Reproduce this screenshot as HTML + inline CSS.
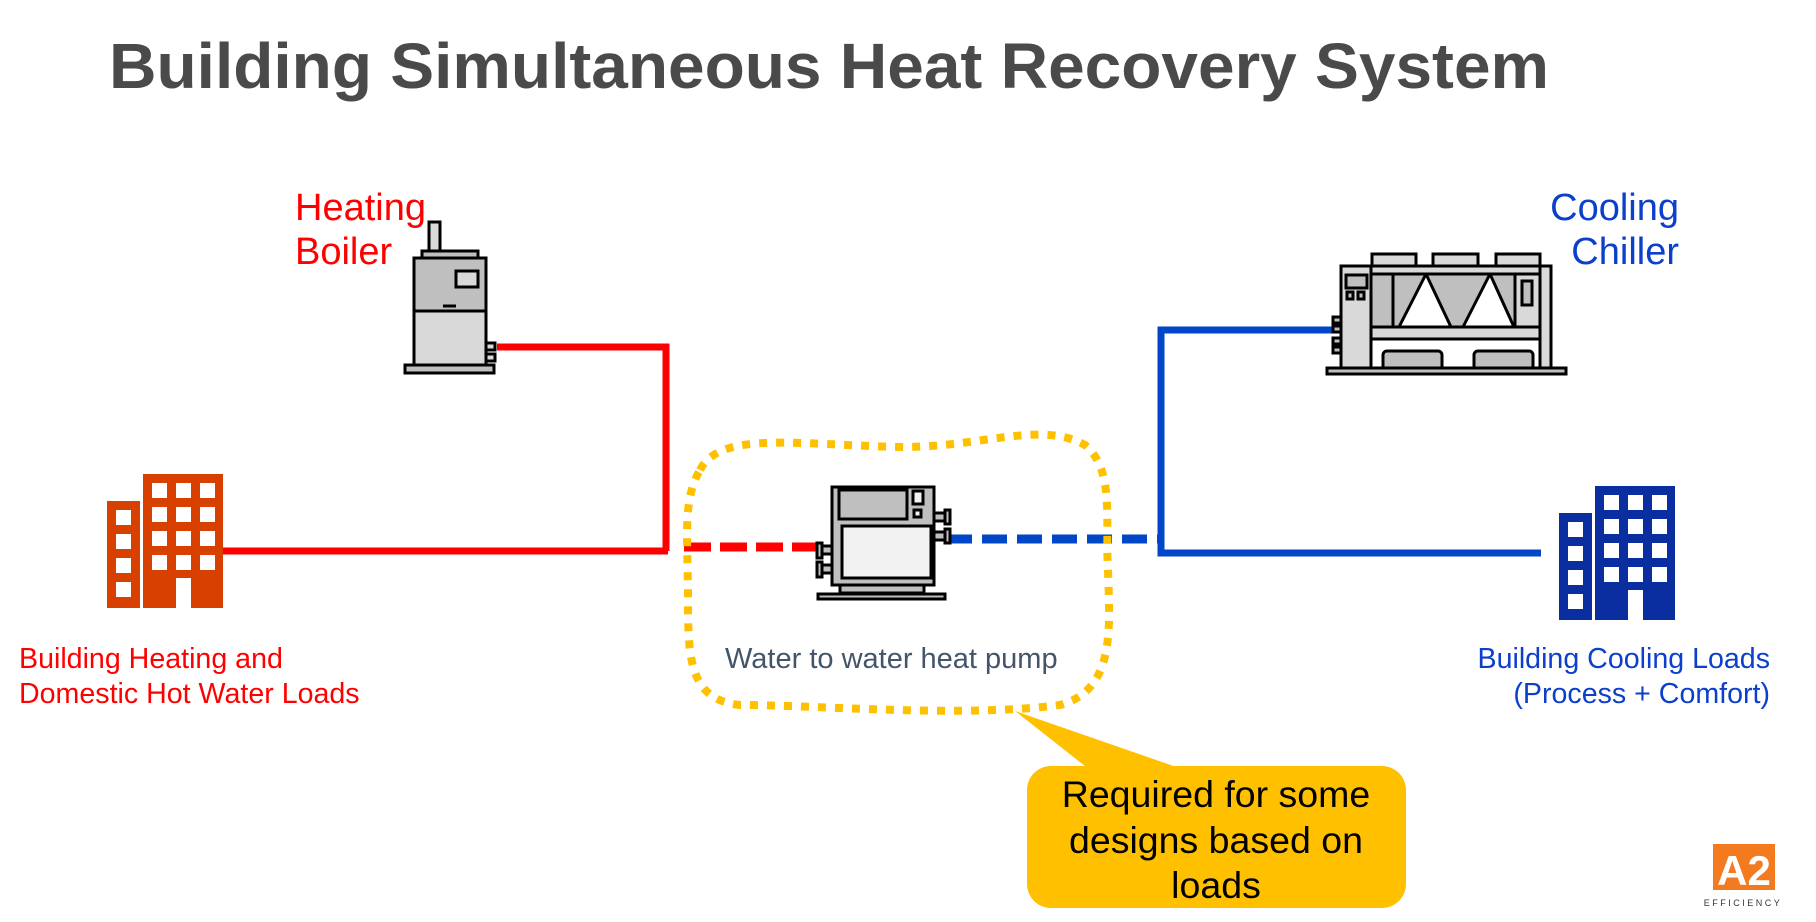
<!DOCTYPE html>
<html><head><meta charset="utf-8"><style>
html,body{margin:0;padding:0;background:#fff;}
svg{display:block;font-family:"Liberation Sans",sans-serif;}
</style></head><body>
<svg width="1816" height="922" viewBox="0 0 1816 922" xmlns="http://www.w3.org/2000/svg">
<text x="109" y="88" font-size="64" font-weight="bold" fill="#4a4a4a" textLength="1440" lengthAdjust="spacingAndGlyphs">Building Simultaneous Heat Recovery System</text>

<text x="295" y="220" font-size="38" fill="#ff0000">Heating</text>
<text x="295" y="264" font-size="38" fill="#ff0000">Boiler</text>
<text x="1679" y="220" font-size="38" fill="#0b3fcc" text-anchor="end">Cooling</text>
<text x="1679" y="264" font-size="38" fill="#0b3fcc" text-anchor="end">Chiller</text>

<!-- lines -->
<g fill="none" stroke-width="7">
<polyline points="497,347 666,347 666,551" stroke="#ff0000"/>
<line x1="223" y1="551" x2="668" y2="551" stroke="#ff0000"/>
<line x1="684" y1="547" x2="819" y2="547" stroke="#ff0000" stroke-width="9" stroke-dasharray="27,9"/>
<line x1="947" y1="539" x2="1161" y2="539" stroke="#0047c8" stroke-width="9" stroke-dasharray="25,10"/>
<polyline points="1333,330 1161,330 1161,553 1541,553" stroke="#0047c8"/>
</g>

<!-- boiler -->
<g stroke="#000" stroke-width="3">
<rect x="429" y="222" width="11" height="29" fill="#d9d9d9"/>
<rect x="422" y="251" width="56" height="7" fill="#bfbfbf"/>
<rect x="414" y="258" width="72" height="53" fill="#bfbfbf"/>
<rect x="414" y="311" width="72" height="54" fill="#d9d9d9"/>
<rect x="456" y="271" width="22" height="16" fill="#d9d9d9"/>
<line x1="443" y1="306" x2="456" y2="306"/>
<rect x="405" y="365" width="89" height="8" fill="#bfbfbf"/>
<rect x="486" y="343" width="9" height="7" fill="#d9d9d9"/>
<rect x="486" y="354" width="9" height="7" fill="#d9d9d9"/>
</g>

<!-- heat pump -->
<g stroke="#000" stroke-width="3">
<rect x="832" y="487" width="102" height="98" fill="#bfbfbf"/>
<rect x="839" y="490" width="68" height="29" fill="#bfbfbf"/>
<rect x="913" y="491" width="10" height="13" fill="#f2f2f2"/>
<rect x="914" y="510" width="7" height="7" fill="#f2f2f2"/>
<rect x="842" y="526" width="89" height="52" fill="#f2f2f2"/>
<rect x="840" y="585" width="84" height="8" fill="#bfbfbf"/>
<rect x="818" y="594" width="127" height="5" fill="#bfbfbf"/>
<rect x="821" y="546" width="11" height="8" fill="#bfbfbf"/><rect x="817" y="543" width="5" height="15" fill="#bfbfbf"/>
<rect x="821" y="565" width="11" height="8" fill="#bfbfbf"/><rect x="817" y="562" width="5" height="15" fill="#bfbfbf"/>
<rect x="934" y="513" width="12" height="8" fill="#bfbfbf"/><rect x="945" y="510" width="5" height="14" fill="#bfbfbf"/>
<rect x="934" y="532" width="12" height="8" fill="#bfbfbf"/><rect x="945" y="529" width="5" height="14" fill="#bfbfbf"/>
</g>

<!-- chiller -->
<g stroke="#000" stroke-width="3">
<rect x="1372" y="254" width="44" height="12" fill="#d9d9d9"/>
<rect x="1433" y="254" width="45" height="12" fill="#d9d9d9"/>
<rect x="1496" y="254" width="44" height="12" fill="#d9d9d9"/>
<rect x="1371" y="274" width="169" height="53" fill="#bfbfbf"/>
<polygon points="1399,327 1426,274 1451,327" fill="#fff"/>
<polygon points="1463,327 1490,274 1514,327" fill="#fff"/>
<line x1="1393" y1="274" x2="1393" y2="327"/>
<rect x="1515" y="274" width="25" height="53" fill="#d9d9d9"/>
<rect x="1522" y="281" width="10" height="24" fill="#bfbfbf"/>
<rect x="1371" y="266" width="180" height="8" fill="#d9d9d9"/>
<rect x="1371" y="327" width="169" height="12" fill="#d9d9d9"/>
<rect x="1371" y="339" width="169" height="29" fill="#fff"/>
<rect x="1383" y="351" width="59" height="19" rx="4" fill="#bfbfbf"/>
<rect x="1474" y="351" width="59" height="19" rx="4" fill="#bfbfbf"/>
<rect x="1540" y="266" width="11" height="102" fill="#d9d9d9"/>
<rect x="1341" y="266" width="30" height="102" fill="#d9d9d9"/>
<rect x="1346" y="275" width="21" height="13" fill="#bfbfbf"/>
<rect x="1347" y="292" width="6" height="7" fill="#bfbfbf"/><rect x="1358" y="292" width="6" height="7" fill="#bfbfbf"/>
<rect x="1327" y="368" width="239" height="6" fill="#bfbfbf"/>
<rect x="1333" y="317" width="8" height="6" fill="#bfbfbf"/><rect x="1333" y="326" width="8" height="6" fill="#bfbfbf"/>
<rect x="1333" y="338" width="8" height="6" fill="#bfbfbf"/><rect x="1333" y="347" width="8" height="6" fill="#bfbfbf"/>
</g>

<!-- buildings -->
<g fill="#d84000">
<rect x="107" y="501" width="33" height="107"/>
<rect x="143" y="474" width="80" height="134"/>
<g fill="#fff">
<rect x="116" y="510" width="15" height="15"/><rect x="116" y="534" width="15" height="15"/><rect x="116" y="558" width="15" height="15"/><rect x="116" y="582" width="15" height="15"/>
<rect x="152" y="483" width="15" height="15"/><rect x="176" y="483" width="15" height="15"/><rect x="200" y="483" width="15" height="15"/>
<rect x="152" y="507" width="15" height="15"/><rect x="176" y="507" width="15" height="15"/><rect x="200" y="507" width="15" height="15"/>
<rect x="152" y="531" width="15" height="15"/><rect x="176" y="531" width="15" height="15"/><rect x="200" y="531" width="15" height="15"/>
<rect x="152" y="555" width="15" height="15"/><rect x="176" y="555" width="15" height="15"/><rect x="200" y="555" width="15" height="15"/>
<rect x="176" y="578" width="15" height="30"/>
</g></g>
<g transform="translate(1452,12)" fill="#0a2ea0">
<rect x="107" y="501" width="33" height="107"/>
<rect x="143" y="474" width="80" height="134"/>
<g fill="#fff">
<rect x="116" y="510" width="15" height="15"/><rect x="116" y="534" width="15" height="15"/><rect x="116" y="558" width="15" height="15"/><rect x="116" y="582" width="15" height="15"/>
<rect x="152" y="483" width="15" height="15"/><rect x="176" y="483" width="15" height="15"/><rect x="200" y="483" width="15" height="15"/>
<rect x="152" y="507" width="15" height="15"/><rect x="176" y="507" width="15" height="15"/><rect x="200" y="507" width="15" height="15"/>
<rect x="152" y="531" width="15" height="15"/><rect x="176" y="531" width="15" height="15"/><rect x="200" y="531" width="15" height="15"/>
<rect x="152" y="555" width="15" height="15"/><rect x="176" y="555" width="15" height="15"/><rect x="200" y="555" width="15" height="15"/>
<rect x="176" y="578" width="15" height="30"/>
</g></g>

<text x="19" y="668" font-size="28.6" fill="#ff0000">Building Heating and</text>
<text x="19" y="703" font-size="28.6" fill="#ff0000">Domestic Hot Water Loads</text>
<text x="1770" y="668" font-size="28.6" fill="#0b3fcc" text-anchor="end">Building Cooling Loads</text>
<text x="1770" y="703" font-size="28.6" fill="#0b3fcc" text-anchor="end">(Process + Comfort)</text>
<text x="725" y="668" font-size="29" fill="#44546a">Water to water heat pump</text>

<!-- dotted blob -->
<path d="M700,470 C720,430 800,445 900,447 C980,448 1040,420 1085,445 C1115,470 1105,520 1108,570 C1110,630 1115,690 1060,705 C960,718 820,705 740,705 C690,700 688,660 688,600 C688,540 682,500 700,470 Z" fill="none" stroke="#ffc000" stroke-width="8" stroke-dasharray="8,9"/>

<!-- callout -->
<polygon points="1015,711 1090,770 1185,770" fill="#ffc000"/>
<rect x="1027" y="766" width="379" height="142" rx="24" fill="#ffc000"/>
<text font-size="37.5" fill="#000" text-anchor="middle"><tspan x="1216" y="807">Required for some</tspan><tspan x="1216" y="853">designs based on</tspan><tspan x="1216" y="898">loads</tspan></text>

<!-- logo -->
<rect x="1713" y="844" width="62" height="46" fill="#f47a20"/>
<text x="1744" y="885" font-size="42" font-weight="bold" fill="#fff" text-anchor="middle">A2</text>
<text x="1743" y="906" font-size="9" fill="#333" text-anchor="middle" letter-spacing="2.5">EFFICIENCY</text>
</svg>
</body></html>
